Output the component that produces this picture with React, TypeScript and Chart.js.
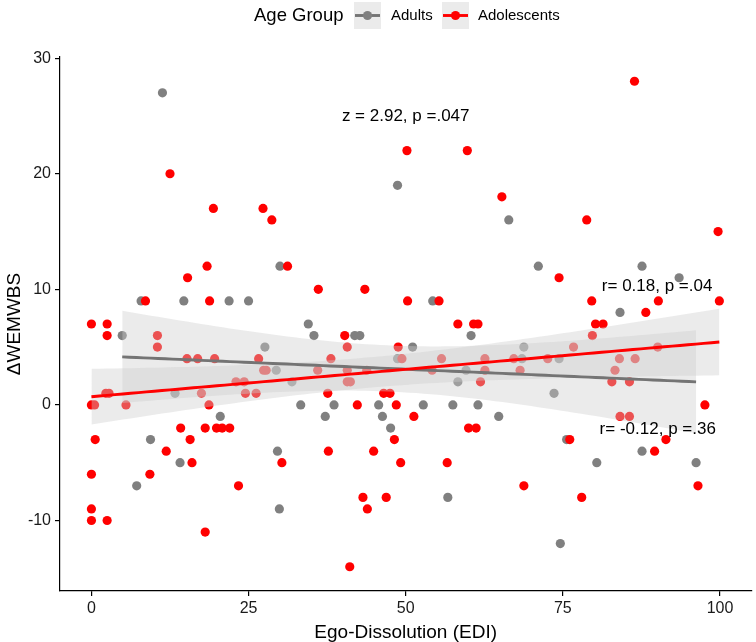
import React, { useEffect, useRef } from 'react';
import { Chart, registerables } from 'chart.js';

Chart.register(...registerables);

// ---- data ----
const groupNames = ['Adults', 'Adolescents'];
const legendTitle = 'Age Group';
const xTitle = 'Ego-Dissolution (EDI)';
const yTitle = 'ΔWEMWBS';
const xTicks = [0, 25, 50, 75, 100];
const yTicks = [-10, 0, 10, 20, 30];

const adultsX = [11.3, 30.0, 7.9, 14.7, 21.9, 25.0, 4.9, 27.6, 29.4, 31.9,
  13.3, 20.5, 9.4, 29.6, 14.1, 7.2, 29.9, 48.7, 54.3, 34.5,
  35.4, 41.9, 42.7, 60.4, 51.1, 48.7, 59.6, 58.3, 33.3, 38.6,
  45.7, 52.8, 57.5, 61.5, 37.2, 46.3, 64.8, 47.6, 56.7, 66.4,
  71.1, 87.6, 93.5, 84.1, 68.8, 68.5, 74.4, 73.6, 75.6, 87.6,
  80.4, 96.2, 74.6];
const adultsY = [27, 12, 9, 9, 9, 9, 6, 5, 3, 2,
  1, -1, -3, -4, -5, -7, -9, 19, 9, 7,
  6, 6, 6, 6, 5, 4, 3, 2, 0, 0,
  0, 0, 0, 0, -1, -1, -1, -2, -8, 16,
  12, 12, 11, 8, 5, 4, 4, 1, -3, -4,
  -5, -5, -12];

const adolX = [12.5, 19.4, 27.3, 28.7, 18.4, 31.2, 15.3, 8.6, 18.8, 0.0,
  2.5, 2.5, 10.5, 10.5, 15.2, 16.9, 19.6, 26.6, 27.4, 27.8,
  23.0, 24.3, 2.3, 2.8, 17.5, 24.5, 26.2, 0.0, 0.5, 5.5,
  18.7, 14.2, 18.1, 19.9, 20.8, 22.0, 0.6, 15.7, 11.9, 16.0,
  30.3, 0.0, 9.3, 23.4, 0.0, 0.0, 2.5, 18.1, 50.2, 59.8,
  65.3, 36.1, 43.5, 50.3, 55.3, 58.3, 60.8, 61.5, 40.3, 40.7,
  48.8, 38.1, 49.4, 55.7, 62.6, 36.0, 40.7, 43.8, 54.2, 62.6,
  40.7, 41.2, 61.9, 37.6, 46.5, 47.5, 42.3, 48.5, 51.3, 60.0,
  61.2, 48.2, 37.7, 44.9, 49.2, 56.6, 43.2, 46.9, 43.9, 41.1,
  86.4, 78.8, 99.7, 74.4, 79.6, 90.2, 99.9, 88.2, 80.2, 81.4,
  79.7, 76.7, 90.1, 67.2, 72.6, 84.0, 86.5, 68.2, 83.3, 82.8,
  85.6, 97.6, 84.1, 85.6, 76.1, 91.4, 89.6, 68.8, 96.5, 78.0];
const adolY = [20, 17, 17, 16, 12, 12, 11, 9, 9, 7,
  7, 6, 6, 5, 4, 4, 4, 4, 3, 3,
  2, 2, 1, 1, 1, 1, 1, 0, 0, 0,
  0, -2, -2, -2, -2, -2, -3, -3, -4, -5,
  -5, -6, -6, -7, -9, -10, -10, -11, 22, 22,
  18, 10, 10, 9, 9, 7, 7, 7, 6, 5,
  5, 4, 4, 4, 4, 3, 3, 3, 3, 3,
  2, 2, 2, 1, 1, 1, 0, 0, -1, -2,
  -2, -3, -4, -4, -5, -5, -8, -8, -9, -14,
  28, 16, 15, 11, 9, 9, 9, 8, 7, 7,
  6, 5, 5, 4, 4, 4, 4, 3, 3, 2,
  2, 0, -1, -1, -3, -3, -4, -7, -7, -8];

const annotationTexts = ['z = 2.92, p =.047', 'r= 0.18, p =.04', 'r= -0.12, p =.36'];
const annotationX = [50, 90, 90.1];
const annotationY = [25, 10.3, -2.1];

const GREY = '#808080';
const GREY_LINE = '#747474';
const RED = '#ff0000';
const BAND = 'rgba(204,204,204,0.4)';
const FONT = "'Liberation Sans', Arial, Helvetica, sans-serif";

function fit(xs: number[], ys: number[]) {
  const n = xs.length;
  const mx = xs.reduce((a, b) => a + b, 0) / n;
  const my = ys.reduce((a, b) => a + b, 0) / n;
  let sxx = 0, sxy = 0;
  for (let i = 0; i < n; i++) { sxx += (xs[i] - mx) ** 2; sxy += (xs[i] - mx) * (ys[i] - my); }
  const b = sxy / sxx;
  const a = my - b * mx;
  let sse = 0;
  for (let i = 0; i < n; i++) sse += (ys[i] - a - b * xs[i]) ** 2;
  const s = Math.sqrt(sse / (n - 2));
  const t = 1.96 + 2.37 / (n - 2);
  const lo = Math.min(...xs), hi = Math.max(...xs);
  const steps = 80;
  const line: { x: number; y: number }[] = [];
  const upper: { x: number; y: number }[] = [];
  const lower: { x: number; y: number }[] = [];
  for (let i = 0; i <= steps; i++) {
    const x = lo + (hi - lo) * i / steps;
    const yh = a + b * x;
    const se = s * Math.sqrt(1 / n + (x - mx) ** 2 / sxx);
    line.push({ x, y: yh });
    upper.push({ x, y: yh + t * se });
    lower.push({ x, y: yh - t * se });
  }
  return { line, upper, lower };
}

const overlay = {
  id: 'overlay',
  afterDraw(chart: any) {
    const ctx = chart.ctx as CanvasRenderingContext2D;
    const xs = chart.scales.x, ys = chart.scales.y;
    const ca = chart.chartArea;
    ctx.save();
    ctx.fillStyle = '#000';
    // annotations
    ctx.font = `17px ${FONT}`;
    ctx.textAlign = 'center';
    ctx.textBaseline = 'middle';
    annotationTexts.forEach((t, i) => {
      ctx.fillText(t, xs.getPixelForValue(annotationX[i]), ys.getPixelForValue(annotationY[i]));
    });
    // axis titles
    ctx.font = `19px ${FONT}`;
    ctx.fillText(xTitle, (ca.left + ca.right) / 2, 633);
    ctx.save();
    ctx.translate(15, (ca.top + ca.bottom) / 2);
    ctx.rotate(-Math.PI / 2);
    ctx.fillText(yTitle, 0, 0);
    ctx.restore();
    // legend
    ctx.textAlign = 'left';
    ctx.font = `18.5px ${FONT}`;
    ctx.fillText(legendTitle, 254, 16);
    const keys = [
      { x: 354, color: GREY, line: GREY_LINE, label: groupNames[0], tx: 391 },
      { x: 442, color: RED, line: RED, label: groupNames[1], tx: 478 },
    ];
    ctx.font = `15px ${FONT}`;
    keys.forEach(k => {
      ctx.fillStyle = '#ebebeb';
      ctx.fillRect(k.x, 2, 27, 27);
      ctx.strokeStyle = k.line;
      ctx.lineWidth = 2.9;
      ctx.beginPath();
      ctx.moveTo(k.x + 1, 15.5);
      ctx.lineTo(k.x + 26, 15.5);
      ctx.stroke();
      ctx.fillStyle = k.color;
      ctx.beginPath();
      ctx.arc(k.x + 13.5, 15.5, 4.6, 0, Math.PI * 2);
      ctx.fill();
      ctx.fillStyle = '#000';
      ctx.fillText(k.label, k.tx, 16);
    });
    ctx.restore();
  },
};

export default function App() {
  const ref = useRef<HTMLCanvasElement | null>(null);
  useEffect(() => {
    if (!ref.current) return;
    const adults = adultsX.map((x, i) => ({ x, y: adultsY[i] }));
    const adol = adolX.map((x, i) => ({ x, y: adolY[i] }));
    const fa = fit(adultsX, adultsY);
    const fr = fit(adolX, adolY);
    const bandCommon = {
      type: 'line' as const,
      borderWidth: 0,
      pointRadius: 0,
      backgroundColor: BAND,
      borderColor: 'rgba(0,0,0,0)',
      tension: 0,
    };
    const chart = new Chart(ref.current, {
      type: 'line',
      data: {
        datasets: [
          { type: 'line', label: 'redLine', data: fr.line, borderColor: RED, borderWidth: 2.9, pointRadius: 0, fill: false, order: 0 },
          { type: 'line', label: 'greyLine', data: fa.line, borderColor: GREY_LINE, borderWidth: 2.9, pointRadius: 0, fill: false, order: 1 },
          { ...bandCommon, label: 'redUpper', data: fr.upper, fill: '+1', order: 2 },
          { ...bandCommon, label: 'redLower', data: fr.lower, fill: false, order: 3 },
          { ...bandCommon, label: 'greyUpper', data: fa.upper, fill: '+1', order: 4 },
          { ...bandCommon, label: 'greyLower', data: fa.lower, fill: false, order: 5 },
          { type: 'line', label: groupNames[1], data: adol, showLine: false, pointRadius: 4.6, pointBorderWidth: 0, pointBackgroundColor: RED, pointBorderColor: RED, order: 6 },
          { type: 'line', label: groupNames[0], data: adults, showLine: false, pointRadius: 4.6, pointBorderWidth: 0, pointBackgroundColor: GREY, pointBorderColor: GREY, order: 7 },
        ] as any,
      },
      options: {
        responsive: false,
        animation: false,
        devicePixelRatio: 1,
        layout: { padding: { top: 57, right: 1, left: 0, bottom: 0 } },
        plugins: { legend: { display: false }, tooltip: { enabled: false }, title: { display: false } },
        scales: {
          x: {
            type: 'linear',
            min: -5,
            max: 105,
            afterBuildTicks: (s: any) => { s.ticks = xTicks.map(v => ({ value: v })); },
            afterFit: (s: any) => { s.height = 51; },
            grid: { drawOnChartArea: false, drawTicks: true, tickLength: 5, color: '#000', lineWidth: 1.2 },
            border: { display: true, color: '#000', width: 1.2 },
            ticks: { color: '#1a1a1a', font: { family: FONT, size: 16 }, padding: 3, maxRotation: 0, autoSkip: false },
          },
          y: {
            type: 'linear',
            min: -16.1,
            max: 30.1,
            afterBuildTicks: (s: any) => { s.ticks = yTicks.map(v => ({ value: v })); },
            afterFit: (s: any) => { s.width = 60; },
            grid: { drawOnChartArea: false, drawTicks: true, tickLength: 5, color: '#000', lineWidth: 1.2 },
            border: { display: true, color: '#000', width: 1.2 },
            ticks: { color: '#1a1a1a', font: { family: FONT, size: 16 }, padding: 4, autoSkip: false },
          },
        },
      } as any,
      plugins: [overlay],
    });
    return () => chart.destroy();
  }, []);
  return (
    <div style={{ position: 'absolute', left: 0, top: 0, width: 756, height: 642, background: '#fff' }}>
      <canvas ref={ref} width={756} height={642} style={{ width: 756, height: 642, display: 'block' }} />
    </div>
  );
}
